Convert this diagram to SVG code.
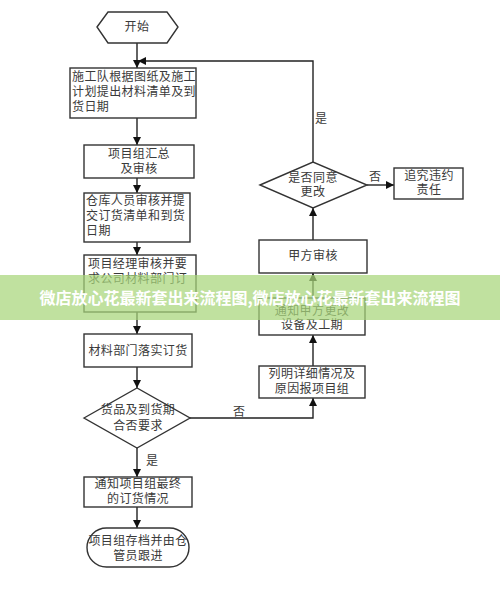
<svg xmlns="http://www.w3.org/2000/svg" width="500" height="596" viewBox="0 0 500 596">
<defs>
<marker id="ah" viewBox="0 0 10 10" refX="10" refY="5" markerWidth="8" markerHeight="8" markerUnits="userSpaceOnUse" orient="auto">
<path d="M0,0 L10,5 L0,10 z" fill="#111"/>
</marker>
<style>
.n{fill:#fff;stroke:#333;stroke-width:1.4}
.t{font-family:"Liberation Serif","Noto Sans CJK SC",serif;font-size:12px;fill:#3a3a3a;letter-spacing:0.4px}
.c{text-anchor:middle}
.e{fill:none;stroke:#222;stroke-width:1.4}
.l{font-family:"Liberation Serif","Noto Sans CJK SC",serif;font-size:12px;fill:#3a3a3a}
</style>
</defs>
<rect width="500" height="596" fill="#fff"/>
<g id="connectors">
<path class="e" d="M137,43 V68" marker-end="url(#ah)"/>
<path class="e" d="M313,162 V61 H138" marker-end="url(#ah)"/>
<path class="e" d="M137,118 V145" marker-end="url(#ah)"/>
<path class="e" d="M137,178 V193" marker-end="url(#ah)"/>
<path class="e" d="M137,242 V255" marker-end="url(#ah)"/>
<path class="e" d="M137,312 V334" marker-end="url(#ah)"/>
<path class="e" d="M137,367 V388" marker-end="url(#ah)"/>
<path class="e" d="M137,448 V477" marker-end="url(#ah)"/>
<path class="e" d="M137,507 V528" marker-end="url(#ah)"/>
<path class="e" d="M190,418 H313 V398" marker-end="url(#ah)"/>
<path class="e" d="M313,366 V335" marker-end="url(#ah)"/>
<path class="e" d="M313,298 V273" marker-end="url(#ah)"/>
<path class="e" d="M313,240 V208" marker-end="url(#ah)"/>
<path class="e" d="M367,185 H394" marker-end="url(#ah)"/>
<text class="l" x="315" y="123">是</text>
<text class="l" x="146" y="465">是</text>
<text class="l" x="233" y="416">否</text>
<text class="l" x="369" y="181">否</text>
</g>
<g id="start">
<polygon class="n" points="97,27 108,12 167,12 178,27 167,43 108,43"/>
<text class="t c" x="137" y="31">开始</text>
</g>
<g id="box1">
<rect class="n" x="70" y="68" width="126" height="50"/>
<text class="t" x="72" y="81">施工队根据图纸及施工</text>
<text class="t" x="72" y="96">计划提出材料清单及到</text>
<text class="t" x="72" y="111">货日期</text>
</g>
<g id="box2">
<rect class="n" x="84" y="145" width="110" height="33"/>
<text class="t c" x="139" y="158">项目组汇总</text>
<text class="t c" x="139" y="173">及审核</text>
</g>
<g id="box3">
<rect class="n" x="84" y="193" width="106" height="49"/>
<text class="t" x="86" y="205">仓库人员审核并提</text>
<text class="t" x="86" y="220">交订货清单和到货</text>
<text class="t" x="86" y="235">日期</text>
</g>
<g id="box4">
<rect class="n" x="84" y="255" width="112" height="57"/>
<text class="t" x="88" y="268">项目经理审核并要</text>
<text class="t" x="88" y="283">求公司材料部门订</text>
</g>
<g id="box5">
<rect class="n" x="84" y="334" width="108" height="33"/>
<text class="t c" x="138" y="355">材料部门落实订货</text>
</g>
<g id="decision1">
<polygon class="n" points="84,418 137,388 190,418 137,448"/>
<text class="t c" x="138" y="414">货品及到货期</text>
<text class="t c" x="138" y="430">合否要求</text>
</g>
<g id="box6">
<rect class="n" x="84" y="477" width="108" height="30"/>
<text class="t c" x="138" y="488">通知项目组最终</text>
<text class="t c" x="138" y="503">的订货情况</text>
</g>
<g id="end">
<rect class="n" x="87" y="528" width="102" height="39" rx="19.5" ry="19.5"/>
<text class="t c" x="138" y="545">项目组存档并由仓</text>
<text class="t c" x="138" y="560">管员跟进</text>
</g>
<g id="box7">
<rect class="n" x="259" y="366" width="106" height="32"/>
<text class="t c" x="312" y="378">列明详细情况及</text>
<text class="t c" x="312" y="393">原因报项目组</text>
</g>
<g id="box8">
<rect class="n" x="259" y="298" width="106" height="37"/>
<text class="t c" x="312" y="315">通知甲方更改</text>
<text class="t c" x="312" y="329">设备及工期</text>
</g>
<g id="box9">
<rect class="n" x="259" y="240" width="108" height="33"/>
<text class="t c" x="313" y="260">甲方审核</text>
</g>
<g id="decision2">
<polygon class="n" points="260,185 313,162 367,185 313,208"/>
<text class="t c" x="313" y="182">是否同意</text>
<text class="t c" x="313" y="196">更改</text>
</g>
<g id="box10">
<rect class="n" x="394" y="168" width="69" height="31"/>
<text class="t c" x="429" y="180">追究违约</text>
<text class="t c" x="429" y="194">责任</text>
</g>
<g id="banner">
<rect x="0" y="275" width="500" height="45" fill="#a8d57a" fill-opacity="0.72"/>
<text x="250" y="304" text-anchor="middle" font-family="'Noto Sans CJK SC',sans-serif" font-size="16" font-weight="bold" fill="#fff">微店放心花最新套出来流程图,微店放心花最新套出来流程图</text>
</g>
</svg>
